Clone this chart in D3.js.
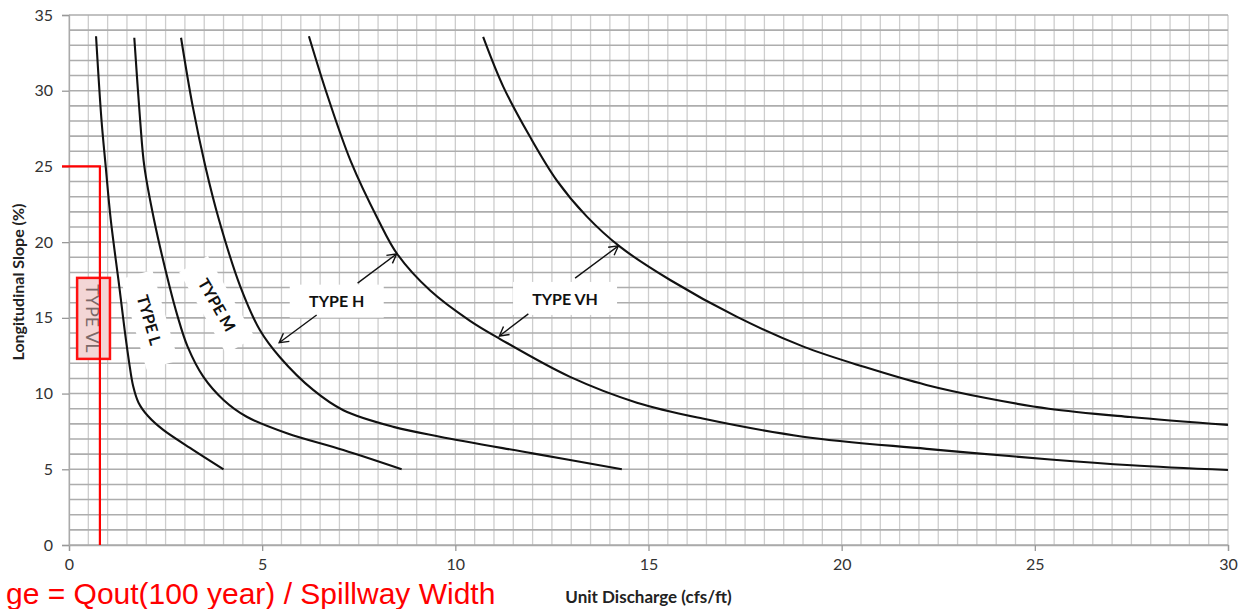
<!DOCTYPE html>
<html>
<head>
<meta charset="utf-8">
<script src="https://cdn.jsdelivr.net/npm/d3@7"></script>
<style>
  html, body { margin: 0; padding: 0; background: #fff; overflow: hidden; }
  svg { display: block; font-family: Lato, "Open Sans", sans-serif; }
</style>
</head>
<body>
<div id="chart"></div>
<script>
// curves: [unit discharge, slope %]
var typeVL = [[0.70,33.6],[0.84,28.1],[0.95,25.0],[1.08,21.5],[1.30,17.1],[1.44,14.2],[1.56,12.0],[1.66,10.5],[1.80,9.4],[2.05,8.5],[2.44,7.6],[3.22,6.27],[4.0,5.0]];
var typeL = [[1.69,33.5],[1.84,28.1],[1.95,25.0],[2.20,21.5],[2.60,17.1],[2.80,15.2],[3.07,13.1],[3.48,11.1],[4.0,9.58],[4.6,8.47],[5.64,7.38],[7.1,6.27],[8.61,5.0]];
var typeM = [[2.90,33.5],[3.20,29.0],[3.53,25.0],[3.88,21.5],[4.43,17.1],[4.94,14.2],[5.46,12.4],[6.32,10.24],[7.1,8.9],[8.4,7.8],[9.6,7.15],[12.0,6.05],[14.31,5.0]];
var typeH = [[6.21,33.6],[6.70,29.6],[7.30,25.3],[8.0,21.5],[8.5,19.2],[9.35,16.8],[10.38,14.8],[11.16,13.6],[12.97,11.1],[14.7,9.4],[16.4,8.35],[19.0,7.15],[22.2,6.35],[25.4,5.65],[27.5,5.27],[30,4.95]];
var typeVH = [[10.72,33.55],[11.24,30.27],[11.93,26.97],[12.62,24.1],[13.4,21.7],[14.26,19.7],[15.56,17.5],[17.28,15.08],[19.01,13.1],[20.6,11.75],[22.19,10.57],[23.77,9.69],[25.36,9.0],[27.47,8.45],[30,7.93]];

var xTicks = [0, 5, 10, 15, 20, 25, 30];
var yTicks = [0, 5, 10, 15, 20, 25, 30, 35];

// labels: [text, x, y, angle]
var curveLabels = [["TYPE L", 2.07, 14.86, 74], ["TYPE M", 3.82, 15.85, 60], ["TYPE H", 6.93, 16.07, 0], ["TYPE VH", 12.84, 16.25, 0]];
// arrows: [fromX, fromY, toX, toY]
var arrows = [[7.47,17.29,8.48,19.22],[6.41,15.19,5.44,13.36],[13.10,17.62,14.22,19.75],[11.89,15.26,11.14,13.80]];

var designQ = 0.8, designSlope = 25;
var vlBox = [0.21, 17.64, 1.06, 12.29];

document.addEventListener("DOMContentLoaded", function() {

    var W = 1249, H = 609;
    var x = d3.scaleLinear().domain([0, 30]).range([69, 1228]);
    var y = d3.scaleLinear().domain([0, 35]).range([545, 15]);

    var svg = d3.select("#chart").append("svg")
        .attr("width", W)
        .attr("height", H);

    var defs = svg.append("defs");
    defs.append("marker")
        .attr("id", "arrowhead")
        .attr("viewBox", "-1 -6 12 12")
        .attr("refX", 9)
        .attr("refY", 0)
        .attr("markerWidth", 12)
        .attr("markerHeight", 12)
        .attr("markerUnits", "userSpaceOnUse")
        .attr("orient", "auto")
        .append("path")
        .attr("d", "M0,-5L9,0L0,5")
        .attr("fill", "none")
        .attr("stroke", "#111")
        .attr("stroke-width", 1.4);

    // grid
    var grid = svg.append("g").attr("class", "grid");
    grid.selectAll("line.v")
        .data(d3.range(0, 30.01, 0.5))
        .enter().append("line")
        .attr("class", "v")
        .attr("x1", function(d) { return x(d); })
        .attr("x2", function(d) { return x(d); })
        .attr("y1", y(0))
        .attr("y2", y(35))
        .attr("stroke", "#cdcdcd")
        .attr("stroke-width", 1.3);

    grid.selectAll("line.h")
        .data(d3.range(0, 35.01, 1))
        .enter().append("line")
        .attr("class", "h")
        .attr("x1", x(0))
        .attr("x2", x(30))
        .attr("y1", function(d) { return y(d); })
        .attr("y2", function(d) { return y(d); })
        .attr("stroke", "#adadad")
        .attr("stroke-width", 1.6);

    // axes
    var xAxis = d3.axisBottom(x).tickValues(xTicks).tickSize(6).tickPadding(8);
    var yAxis = d3.axisLeft(y).tickValues(yTicks).tickSize(7).tickPadding(9);

    var gx = svg.append("g")
        .attr("transform", "translate(0," + y(0) + ")")
        .call(xAxis);
    var gy = svg.append("g")
        .attr("transform", "translate(" + x(0) + ",0)")
        .call(yAxis);

    [gx, gy].forEach(function(g) {
        g.select(".domain").attr("stroke", "#aaa").attr("stroke-width", 1.3);
        g.selectAll(".tick line").attr("stroke", "#999").attr("stroke-width", 1.3);
        g.selectAll(".tick text")
            .attr("fill", "#333")
            .style("font-family", "Lato, sans-serif")
            .style("font-size", "16px");
    });

    svg.append("text")
        .attr("x", x(15))
        .attr("y", 603)
        .attr("text-anchor", "middle")
        .style("font-size", "17px")
        .style("font-weight", "bold")
        .attr("fill", "#222")
        .text("Unit Discharge (cfs/ft)");

    svg.append("text")
        .attr("transform", "translate(24," + 282 + ") rotate(-90)")
        .attr("text-anchor", "middle")
        .style("font-size", "16px")
        .style("font-weight", "bold")
        .attr("fill", "#222")
        .text("Longitudinal Slope (%)");

    // white boxes behind the labels
    var labels = svg.append("g");
    labels.selectAll("rect")
        .data(curveLabels)
        .enter().append("rect")
        .attr("transform", function(d) {
            return "translate(" + x(d[1]) + "," + y(d[2]) + ") rotate(" + d[3] + ")";
        })
        .attr("x", function(d) { return d[0] === "TYPE VH" ? -52 : -47; })
        .attr("y", -17)
        .attr("width", function(d) { return d[0] === "TYPE VH" ? 104 : 94; })
        .attr("height", 33)
        .attr("fill", "#fff");

    // VL box
    svg.append("rect")
        .attr("x", x(vlBox[0]))
        .attr("y", y(vlBox[1]))
        .attr("width", x(vlBox[2]) - x(vlBox[0]))
        .attr("height", y(vlBox[3]) - y(vlBox[1]))
        .attr("fill", "#f3d6d6")
        .attr("stroke", "#ff1010")
        .attr("stroke-width", 2.5);

    svg.append("text")
        .attr("transform", "translate(" + (x((vlBox[0] + vlBox[2]) / 2) - 1) + "," + y((vlBox[1] + vlBox[3]) / 2) + ") rotate(90)")
        .attr("text-anchor", "middle")
        .attr("dy", "0.35em")
        .style("font-size", "18px")
        .attr("fill", "#7d6868")
        .text("TYPE VL");

    // red design lines
    svg.append("path")
        .attr("d", "M" + (x(0) - 7) + "," + y(designSlope) + "H" + x(designQ) + "V" + y(0))
        .attr("fill", "none")
        .attr("stroke", "#ff0000")
        .attr("stroke-width", 2.2);

    // curves
    var line = d3.line()
        .curve(d3.curveCatmullRom.alpha(0.5))
        .x(function(d) { return x(d[0]); })
        .y(function(d) { return y(d[1]); });

    svg.selectAll("path.curve")
        .data([typeVL, typeL, typeM, typeH, typeVH])
        .enter().append("path")
        .attr("class", "curve")
        .attr("d", line)
        .attr("fill", "none")
        .attr("stroke", "#111")
        .attr("stroke-width", 2.1);

    // label text
    labels.selectAll("text")
        .data(curveLabels)
        .enter().append("text")
        .attr("transform", function(d) {
            return "translate(" + x(d[1]) + "," + y(d[2]) + ") rotate(" + d[3] + ")";
        })
        .attr("text-anchor", "middle")
        .attr("dy", "0.35em")
        .style("font-size", "16px")
        .style("font-weight", "bold")
        .attr("fill", "#111")
        .text(function(d) { return d[0]; });

    svg.selectAll("line.arrow")
        .data(arrows)
        .enter().append("line")
        .attr("class", "arrow")
        .attr("x1", function(d) { return x(d[0]); })
        .attr("y1", function(d) { return y(d[1]); })
        .attr("x2", function(d) { return x(d[2]); })
        .attr("y2", function(d) { return y(d[3]); })
        .attr("stroke", "#111")
        .attr("stroke-width", 1.4)
        .attr("marker-end", "url(#arrowhead)");

    // red note at the bottom, only its visible part as in the picture
    svg.append("text")
        .attr("x", 6)
        .attr("y", 604)
        .attr("text-anchor", "start")
        .style("font-family", "'Liberation Sans', Arial, sans-serif")
        .style("font-size", "30px")
        .attr("fill", "#ff0000")
        .text("ge = Qout(100 year) / Spillway Width");
});
</script>
</body>
</html>
